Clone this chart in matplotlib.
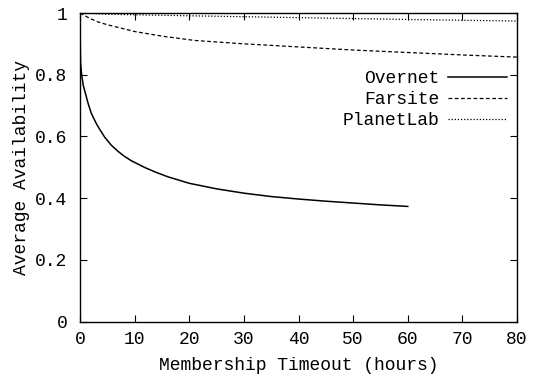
import numpy as np
import matplotlib
matplotlib.use("Agg")
import matplotlib.pyplot as plt
from matplotlib.ticker import FuncFormatter

# Overnet curve (ends at 60 hours)
overnet_x = [0, 0.1, 0.3, 0.6, 1.15, 1.5, 2.07, 3, 3.6, 4.5, 5.7, 7, 8,
             9.4, 12, 14, 16.1, 20, 25, 30, 35, 40, 45, 50, 55, 60]
overnet_y = [0.95, 0.84, 0.80, 0.765, 0.729, 0.706, 0.675, 0.641, 0.623,
             0.598, 0.572, 0.551, 0.537, 0.521, 0.498, 0.483, 0.469, 0.448,
             0.43, 0.416, 0.405, 0.397, 0.39, 0.384, 0.378, 0.373]

farsite_x = [0, 1, 2, 3.3, 5, 10, 15, 21, 30, 40, 50, 60, 70, 80]
farsite_y = [1.0, 0.99, 0.981, 0.971, 0.962, 0.94, 0.925, 0.911, 0.9,
             0.89, 0.88, 0.872, 0.864, 0.857]

planetlab_x = [0, 5, 20, 40, 60, 80]
planetlab_y = [1.0, 0.996, 0.991, 0.985, 0.979, 0.974]

font_size = 13
plt.rcParams['font.family'] = 'Liberation Mono'
plt.rcParams['font.size'] = font_size

fig = plt.figure(figsize=(5.33, 3.8), dpi=100)
ax = fig.add_axes([80 / 533, 1 - 321.5 / 380, 437 / 533, 308.5 / 380])

ax.plot(overnet_x, overnet_y, '-', color='black', lw=1.1, label='Overnet')
ax.plot(farsite_x, farsite_y, color='black', lw=0.9, dashes=(3, 2),
        label='Farsite')
ax.plot(planetlab_x, planetlab_y, color='black', lw=0.9, dashes=(1, 1.5),
        label='PlanetLab')

ax.set_xlim(0, 80)
ax.set_ylim(0, 1)
ax.set_xticks(np.arange(0, 81, 10))
ax.set_yticks([0, 0.2, 0.4, 0.6, 0.8, 1.0])
ax.yaxis.set_major_formatter(FuncFormatter(lambda v, p: '%g' % v))

ax.tick_params(direction='in', length=5, width=0.8, top=True, right=True,
               labelsize=font_size, pad=7)
ax.tick_params(axis='y', pad=9)
for s in ax.spines.values():
    s.set_linewidth(1.0)

ax.set_xlabel('Membership Timeout (hours)', fontsize=font_size, labelpad=6)
ax.set_ylabel('Average Availability', fontsize=font_size, labelpad=4)

ax.legend(loc='upper right', bbox_to_anchor=(0.978, 0.815), frameon=False,
          markerfirst=False, handlelength=3.3, handletextpad=0.45,
          labelspacing=0.22, borderpad=0, borderaxespad=0, fontsize=font_size)

fig.savefig('out.png', dpi=100)
